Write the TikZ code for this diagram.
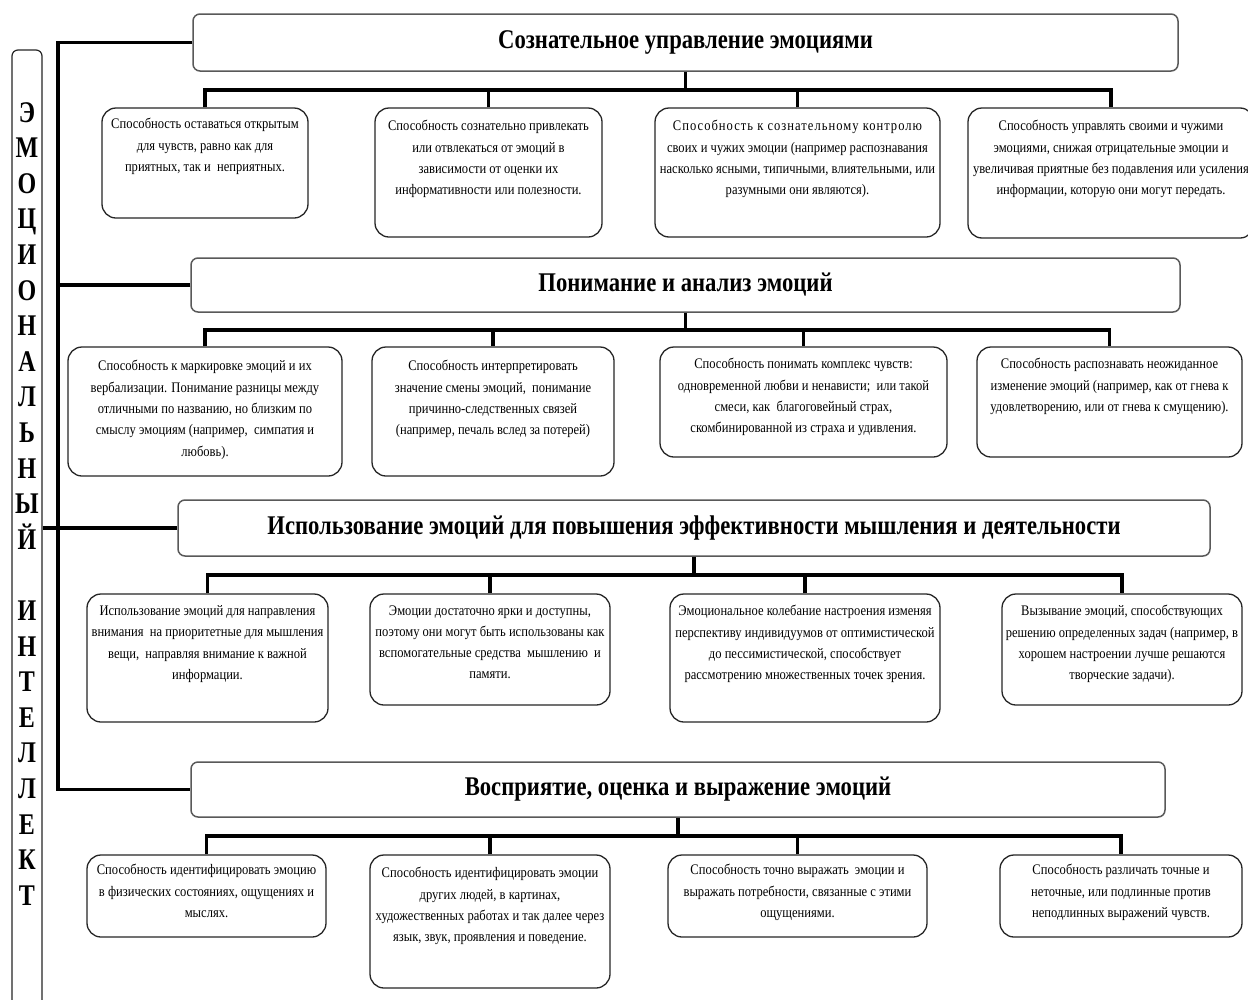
\documentclass[tikz,border=0pt]{standalone}
\usepackage{fontspec}
\setmainfont{Liberation Serif}[FakeStretch=0.86]
\newfontfamily\hfont{Liberation Serif}[FakeStretch=0.84]
\newfontfamily\lfont{Liberation Serif}[FakeStretch=0.8]
\usetikzlibrary{fit}
\tikzset{
  conn/.style={line width=3.8pt, line join=miter, draw=black},
  sbox/.style={draw=black!85, line width=1.3pt, rounded corners=14pt, inner sep=0pt, fill=white},
  hbox/.style={draw=black!65, line width=1.5pt, rounded corners=7pt, inner sep=0pt, fill=white},
  stxt/.style={anchor=north, align=center, inner sep=0pt, font=\fontsize{14.6}{21.3}\selectfont},
  htxt/.style={inner sep=0pt, font=\hfont\bfseries\fontsize{27}{30}\selectfont},
  ltxt/.style={anchor=north, align=center, inner sep=0pt, font=\lfont\bfseries\fontsize{30}{35.6}\selectfont}
}
\newcommand\mybox[7]{%
  \coordinate (#1-a) at (#2,#3);
  \coordinate (#1-b) at (#4,#5);
  \node[sbox, fit=(#1-a)(#1-b)] (#1) {};
  \node[stxt] (#1-t) at ({(#2+#4)/2},{#6-6.8}) {#7};
}
\newcommand\myhead[6]{%
  \coordinate (#1-a) at (#2,#3);
  \coordinate (#1-b) at (#4,#5);
  \node[hbox, fit=(#1-a)(#1-b)] (#1) {};
  \node[htxt] (#1-t) at (#1.center) {#6};
}
\begin{document}
\begin{tikzpicture}[x=1pt,y=-1pt]
\clip (0,0) rectangle (1248,999);
\fill[white] (0,0) rectangle (1248,999);

% left label box
\coordinate (lb-a) at (12,50);
\coordinate (lb-b) at (42,1015);
\node[sbox, rounded corners=6pt, line width=1.2pt, fit=(lb-a)(lb-b)] (lbox) {};
\node[ltxt] (ltext) at (27,102) {Э\\М\\О\\Ц\\И\\О\\Н\\А\\Л\\Ь\\Н\\Ы\\Й\\[35.6pt]И\\Н\\Т\\Е\\Л\\Л\\Е\\К\\Т};

% headers
\myhead{h1}{193}{14}{1178}{71}{Сознательное управление эмоциями}
\myhead{h2}{191}{258}{1180}{312}{Понимание и анализ эмоций}
\myhead{h3}{178}{500}{1210}{556}{Использование эмоций для повышения эффективности мышления и деятельности}
\myhead{h4}{191}{762}{1165}{817}{Восприятие, оценка и выражение эмоций}

% trunk
\coordinate (tr) at (58,0);
\draw[conn] (h1.west) -- (h1.west -| tr) -- (h4.west -| tr) -- (h4.west);
\draw[conn] (h2.west) -- (h2.west -| tr);
\draw[conn] (lbox.east |- h3.west) -- (h3.west);

% section 1
\mybox{b11}{102}{108}{308}{218}{125}{Способность оставаться открытым\\для чувств, равно как для\\приятных, так и\ \ неприятных.}
\mybox{b12}{375}{108}{602}{237}{127}{Способность сознательно привлекать\\или отвлекаться от эмоций в\\зависимости от оценки их\\информативности или полезности.}
\mybox{b13}{655}{108}{940}{237}{127}{{\addfontfeatures{LetterSpace=7}Способность к сознательному контролю}\\своих и чужих эмоции (например распознавания\\насколько ясными, типичными, влиятельными, или\\разумными они являются).}
\mybox{b14}{968}{108}{1254}{238}{127}{Способность управлять своими и чужими\\эмоциями, снижая отрицательные эмоции и\\увеличивая приятные без подавления или усиления\\информации, которую они могут передать.}
\coordinate (s1) at (0,90);
\draw[conn] (h1.south) -- (h1.south |- s1);
\draw[conn] (b11.north) |- (b11.north |- s1) -| (b14.north);
\draw[conn] (b12.north) -- (b12.north |- s1);
\draw[conn] (b13.north) -- (b13.north |- s1);

% section 2
\mybox{b21}{68}{347}{342}{476}{367}{Способность к маркировке эмоций и их\\вербализации. Понимание разницы между\\отличными по названию, но близким по\\смыслу эмоциям (например,\ \ симпатия и\\любовь).}
\mybox{b22}{372}{347}{614}{476}{367}{Способность интерпретировать\\значение смены эмоций,\ \ понимание\\причинно-следственных связей\\(например, печаль вслед за потерей)}
\mybox{b23}{660}{347}{947}{457}{365}{Способность понимать комплекс чувств:\\одновременной любви и ненависти;\ \ или такой\\смеси, как\ \ благоговейный страх,\\скомбинированной из страха и удивления.}
\mybox{b24}{977}{347}{1242}{457}{365}{Способность распознавать неожиданное\\изменение эмоций (например, как от гнева к\\удовлетворению, или от гнева к смущению).}
\coordinate (s2) at (0,330);
\draw[conn] (h2.south) -- (h2.south |- s2);
\draw[conn] (b21.north) |- (b21.north |- s2) -| (b24.north);
\draw[conn] (b22.north) -- (b22.north |- s2);
\draw[conn] (b23.north) -- (b23.north |- s2);

% section 3
\mybox{b31}{87}{594}{328}{722}{612}{Использование эмоций для направления\\внимания\ \ на приоритетные для мышления\\вещи,\ \ направляя внимание к важной\\информации.}
\mybox{b32}{370}{594}{610}{705}{612}{Эмоции достаточно ярки и доступны,\\поэтому они могут быть использованы как\\вспомогательные средства\ \ мышлению\ \ и\\памяти.}
\mybox{b33}{670}{594}{940}{722}{612}{Эмоциональное колебание настроения изменяя\\перспективу индивидуумов от оптимистической\\до пессимистической, способствует\\рассмотрению множественных точек зрения.}
\mybox{b34}{1002}{594}{1242}{705}{612}{Вызывание эмоций, способствующих\\решению определенных задач (например, в\\хорошем настроении лучше решаются\\творческие задачи).}
\coordinate (s3) at (0,575);
\draw[conn] (h3.south) -- (h3.south |- s3);
\draw[conn] (b31.north) |- (b31.north |- s3) -| (b34.north);
\draw[conn] (b32.north) -- (b32.north |- s3);
\draw[conn] (b33.north) -- (b33.north |- s3);

% section 4
\mybox{b41}{87}{855}{326}{937}{871}{Способность идентифицировать эмоцию\\в физических состояниях, ощущениях и\\мыслях.}
\mybox{b42}{370}{855}{610}{988}{874}{Способность идентифицировать эмоции\\других людей, в картинах,\\художественных работах и так далее через\\язык, звук, проявления и поведение.}
\mybox{b43}{668}{855}{927}{937}{871}{Способность точно выражать\ \ эмоции и\\выражать потребности, связанные с этими\\ощущениями.}
\mybox{b44}{1000}{855}{1242}{937}{871}{Способность различать точные и\\неточные, или подлинные против\\неподлинных выражений чувств.}
\coordinate (s4) at (0,836);
\draw[conn] (h4.south) -- (h4.south |- s4);
\draw[conn] (b41.north) |- (b41.north |- s4) -| (b44.north);
\draw[conn] (b42.north) -- (b42.north |- s4);
\draw[conn] (b43.north) -- (b43.north |- s4);
\end{tikzpicture}
\end{document}
